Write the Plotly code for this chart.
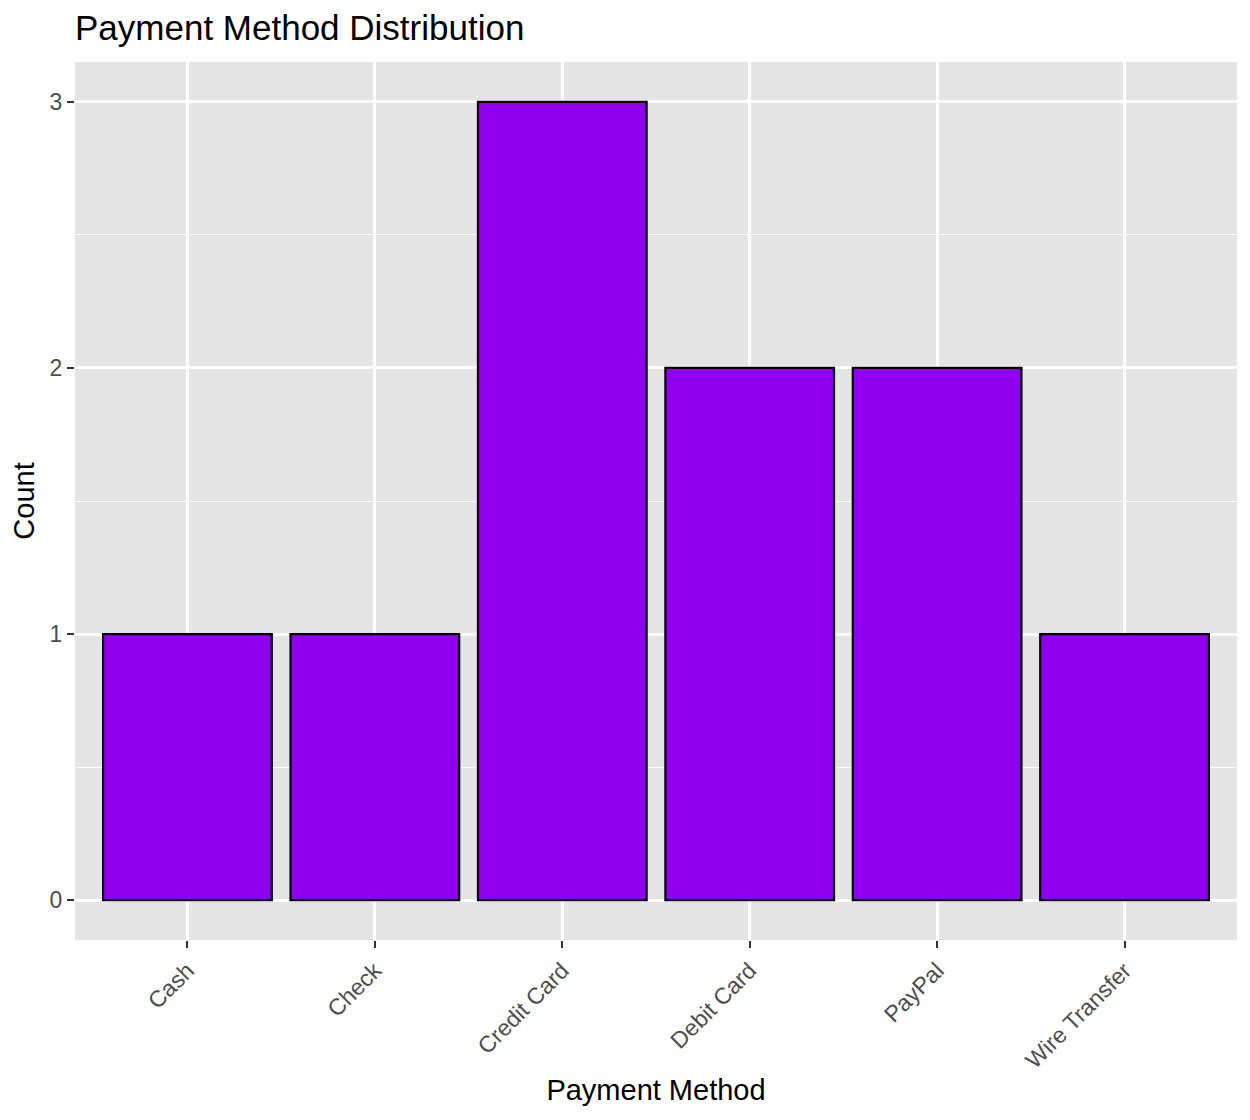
import plotly.graph_objects as go

methods = ["Cash", "Check", "Credit Card", "Debit Card", "PayPal", "Wire Transfer"]
counts = [1, 1, 3, 2, 2, 1]

fig = go.Figure()
fig.add_trace(go.Bar(
    x=methods, y=counts, width=0.9,
    marker=dict(color="#8E00EE", line=dict(color="black", width=2.2)),
))

# page has an 8px body margin, so the figure is 8px smaller than the window
fig.update_layout(
    width=1242, height=1112,
    margin=dict(l=67, r=13, t=54, b=180),
    paper_bgcolor="white", plot_bgcolor="#E5E5E5",
    font=dict(family="Liberation Sans, Arial, sans-serif", color="black"),
    title=dict(text="Payment Method Distribution", x=67 / 1242, xanchor="left",
               y=1 - 20 / 1112, yanchor="middle", font=dict(size=35)),
    showlegend=False,
)
fig.update_xaxes(
    title=dict(text="Payment Method", font=dict(size=29), standoff=7),
    range=[-0.6, 5.6], tickangle=-45, automargin=False,
    tickfont=dict(size=23, color="#4D4D4D"),
    showgrid=True, gridcolor="white", gridwidth=2.5,
    ticks="outside", ticklen=7, tickwidth=2, tickcolor="#333333",
    zeroline=False, showline=False,
)
fig.update_yaxes(
    title=dict(text="Count", font=dict(size=29), standoff=10),
    range=[-0.15, 3.15], tickvals=[0, 1, 2, 3], automargin=False,
    tickfont=dict(size=23, color="#4D4D4D"),
    showgrid=True, gridcolor="white", gridwidth=2.5,
    minor=dict(tickvals=[0.5, 1.5, 2.5], showgrid=True, gridcolor="white", gridwidth=1.3),
    ticks="outside", ticklen=7, tickwidth=2, tickcolor="#333333",
    zeroline=False, showline=False,
)

fig.write_html("out.html")
